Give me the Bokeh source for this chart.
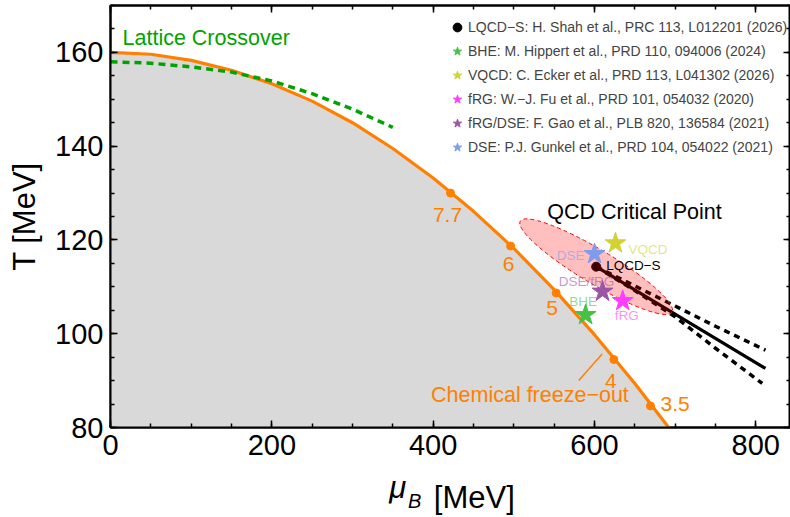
from bokeh.plotting import figure
from bokeh.models import (LinearAxis, FixedTicker, Range1d, Legend, LegendItem,
                          ColumnDataSource)
from bokeh.core.properties import value
from bokeh.embed import file_html
from bokeh.resources import INLINE

# ---------------- data ----------------
# chemical freeze-out curve  (mu_B [MeV], T [MeV])
fo_mu = [0, 50, 100, 150, 200, 250, 300, 350, 400, 450, 500, 550, 600, 650, 700]
fo_T = [160.0, 159.6, 158.3, 156.2, 153.3, 149.6, 145.0, 139.5, 133.2, 126.1,
        118.2, 109.4, 99.8, 89.4, 78.2]
# freeze-out points labelled by sqrt(s_NN) [GeV]
pt_mu = [421.5, 496.0, 552.5, 624.0, 669.4]
pt_T = [130.0, 118.7, 108.7, 94.5, 84.6]
pt_lab = ["7.7", "6", "5", "4", "3.5"]
# lattice crossover line
lat_mu = [0, 50, 100, 150, 200, 250, 300, 350]
lat_T = [158.0, 157.7, 156.9, 155.8, 153.9, 151.2, 147.9, 144.0]
# LQCD-S critical point and first-order line with its band
cep_mu = [602.1]
cep_T = [114.3]
fol_mu = [602.1, 812.0]
fol_T = [114.3, 92.6]
up_mu = [602.1, 650, 700, 750, 812]
up_T = [114.3, 110.2, 105.9, 101.6, 96.5]
lo_mu = [602.1, 650, 700, 750, 808]
lo_T = [114.3, 109.2, 103.6, 96.9, 89.4]
# model critical points
mod_short = ["BHE", "VQCD", "fRG", "DSE/fRG", "DSE"]
mod_mu = [589.0, 626.0, 635.0, 610.0, 600.0]
mod_T = [104.0, 119.3, 107.0, 109.0, 117.0]
mod_legend = ["BHE: M. Hippert et al., PRD 110, 094006 (2024)",
              "VQCD: C. Ecker et al., PRD 113, L041302 (2026)",
              "fRG: W.\u2212J. Fu et al., PRD 101, 054032 (2020)",
              "fRG/DSE: F. Gao et al., PLB 820, 136584 (2021)",
              "DSE: P.J. Gunkel et al., PRD 104, 054022 (2021)"]
cep_legend = "LQCD\u2212S: H. Shah et al., PRC 113, L012201 (2026)"
x_major = [0, 200, 400, 600, 800]
y_major = [80, 100, 120, 140, 160]

# ---------------- styling ----------------
FONT = "Liberation Sans"
ORANGE = "#ff8000"
GREEN = "#00a300"
mod_colors = ["#44c244", "#d2d232", "#ff3cff", "#9c55a6", "#7f9bee"]

p = figure(width=790, height=517, x_range=Range1d(0, 843), y_range=Range1d(80, 170),
           title=None, output_backend="svg", toolbar_location=None,
           min_border_left=110, min_border_right=0, min_border_top=5, min_border_bottom=89)
p.background_fill_color = "white"
p.border_fill_color = "white"
p.outline_line_color = "black"
p.outline_line_width = 2
p.grid.visible = False

xt = FixedTicker(ticks=x_major, minor_ticks=list(range(0, 851, 50)))
yt = FixedTicker(ticks=y_major, minor_ticks=list(range(80, 171, 5)))


def style_axis(ax, ticker, labels=True):
    ax.ticker = ticker
    ax.axis_line_color = "black"
    ax.axis_line_width = 2
    ax.major_tick_in = 7
    ax.major_tick_out = 0
    ax.minor_tick_in = 4
    ax.minor_tick_out = 0
    ax.major_tick_line_width = 1.5
    ax.minor_tick_line_width = 1.5
    ax.major_tick_line_color = "black"
    ax.minor_tick_line_color = "black"
    if labels:
        ax.major_label_text_font = FONT
        ax.major_label_text_font_size = "29px"
        ax.major_label_text_color = "black"
        ax.major_label_standoff = 7
    else:
        ax.major_label_text_font_size = "0px"
        ax.major_label_text_color = None
        ax.major_label_standoff = 0


style_axis(p.xaxis[0], xt)
style_axis(p.yaxis[0], yt)
p.yaxis[0].axis_label = "T [MeV]"
p.yaxis[0].axis_label_text_font = FONT
p.yaxis[0].axis_label_text_font_size = "31px"
p.yaxis[0].axis_label_text_font_style = "normal"
p.yaxis[0].axis_label_text_color = "black"
p.yaxis[0].axis_label_standoff = 10

top = LinearAxis()
style_axis(top, xt, labels=False)
p.add_layout(top, "above")
right = LinearAxis()
style_axis(right, yt, labels=False)
p.add_layout(right, "right")


# x axis title  "mu_B [MeV]"  built from label-only axes stacked below the main one
def title_axis(tick, txt, size, style, standoff):
    ax = LinearAxis(ticker=FixedTicker(ticks=[tick], minor_ticks=[]),
                    major_label_overrides={tick: txt},
                    major_tick_in=0, major_tick_out=0, minor_tick_in=0, minor_tick_out=0,
                    axis_line_color=None, major_tick_line_color=None,
                    minor_tick_line_color=None,
                    major_label_text_font=FONT, major_label_text_font_size=size,
                    major_label_text_font_style=style, major_label_text_color="black",
                    major_label_standoff=standoff)
    p.add_layout(ax, "below")


title_axis(451, "[MeV]", "31px", "normal", 22)
title_axis(377, "B", "20px", "italic", -28)
title_axis(356, "\u03bc", "31px", "italic", -48)

# shaded hadronic region and freeze-out curve
p.varea(x=fo_mu, y1=80, y2=fo_T, fill_color="#d9d9d9")
p.line(fo_mu, fo_T, line_color=ORANGE, line_width=3.2)
p.scatter(pt_mu, pt_T, marker="circle", size=8, fill_color=ORANGE, line_color=ORANGE)
pt_src = ColumnDataSource(dict(x=pt_mu, y=pt_T, t=pt_lab,
                               dx=[-3, -2, -4, -3, 10], dy=[22, 18, 15, 21, -2],
                               al=["center", "center", "center", "center", "left"]))
p.text(x="x", y="y", text="t", source=pt_src, x_offset="dx", y_offset="dy",
       text_align="al", text_baseline="middle", text_color=ORANGE,
       text_font=value(FONT), text_font_size="21px")

# pointer to the freeze-out curve and its label
p.line([580.5, 609.5], [90.0, 95.7], line_color=ORANGE, line_width=1.5)
p.text(x=[520], y=[87.0], text=["Chemical freeze\u2212out"], text_align="center",
       text_baseline="middle", text_color=ORANGE, text_font=value(FONT),
       text_font_size="21.5px")

# lattice crossover
p.line(lat_mu, lat_T, line_color=GREEN, line_width=3.5, line_dash="7 5")
p.text(x=[14.9], y=[163.0], text=["Lattice Crossover"], text_align="left",
       text_baseline="middle", text_color=GREEN, text_font=value(FONT),
       text_font_size="21.5px")

# first-order line and band
p.line(fol_mu, fol_T, line_color="black", line_width=3.2)
p.line(up_mu, up_T, line_color="black", line_width=3.5, line_dash="6 5")
p.line(lo_mu, lo_T, line_color="black", line_width=3.5, line_dash="6 5")
r_cep = p.scatter(cep_mu, cep_T, marker="circle", size=9, fill_color="black",
                  line_color="black")

# LQCD-S error ellipse (translucent red over the line)
p.ellipse(x=cep_mu, y=cep_T, width=177, height=34, angle=-0.54,
          width_units="screen", height_units="screen",
          fill_color="red", fill_alpha=0.25, line_color="red", line_width=1,
          line_dash="4 3")

p.text(x=[649.6], y=[125.9], text=["QCD Critical Point"], text_align="center",
       text_baseline="middle", text_color="black", text_font=value(FONT),
       text_font_size="21.5px")
p.text(x=cep_mu, y=cep_T, text=["LQCD\u2212S"], x_offset=10, y_offset=-1,
       text_align="left", text_baseline="middle", text_color="black",
       text_font=value(FONT), text_font_size="13.5px")

# model stars
star_renderers = []
for i in range(len(mod_short)):
    r = p.scatter([mod_mu[i]], [mod_T[i]], marker="star", size=22,
                  fill_color=mod_colors[i], line_color=mod_colors[i])
    star_renderers.append(r)

lab_src = ColumnDataSource(dict(x=mod_mu, y=mod_T, t=mod_short, c=mod_colors,
                                dx=[-2.5, 13, 4, -16, -10], dy=[-13, 6, 15, -10, 1],
                                al=["center", "left", "center", "center", "right"]))
p.text(x="x", y="y", text="t", source=lab_src, x_offset="dx", y_offset="dy",
       text_align="al", text_baseline="middle", text_color="c", text_alpha=0.6,
       text_font=value(FONT), text_font_size="13.5px")

# legend
items = [LegendItem(label=cep_legend, renderers=[r_cep])]
for i in range(len(mod_short)):
    items.append(LegendItem(label=mod_legend[i], renderers=[star_renderers[i]]))
leg = Legend(items=items, location=(336, 268), glyph_width=22, glyph_height=24,
             label_height=24, spacing=0, padding=0, margin=0, label_standoff=0,
             border_line_color=None, background_fill_alpha=0,
             label_text_font=FONT, label_text_font_size="14px")
p.add_layout(leg)

open("out.html", "w").write(file_html(p, INLINE))
